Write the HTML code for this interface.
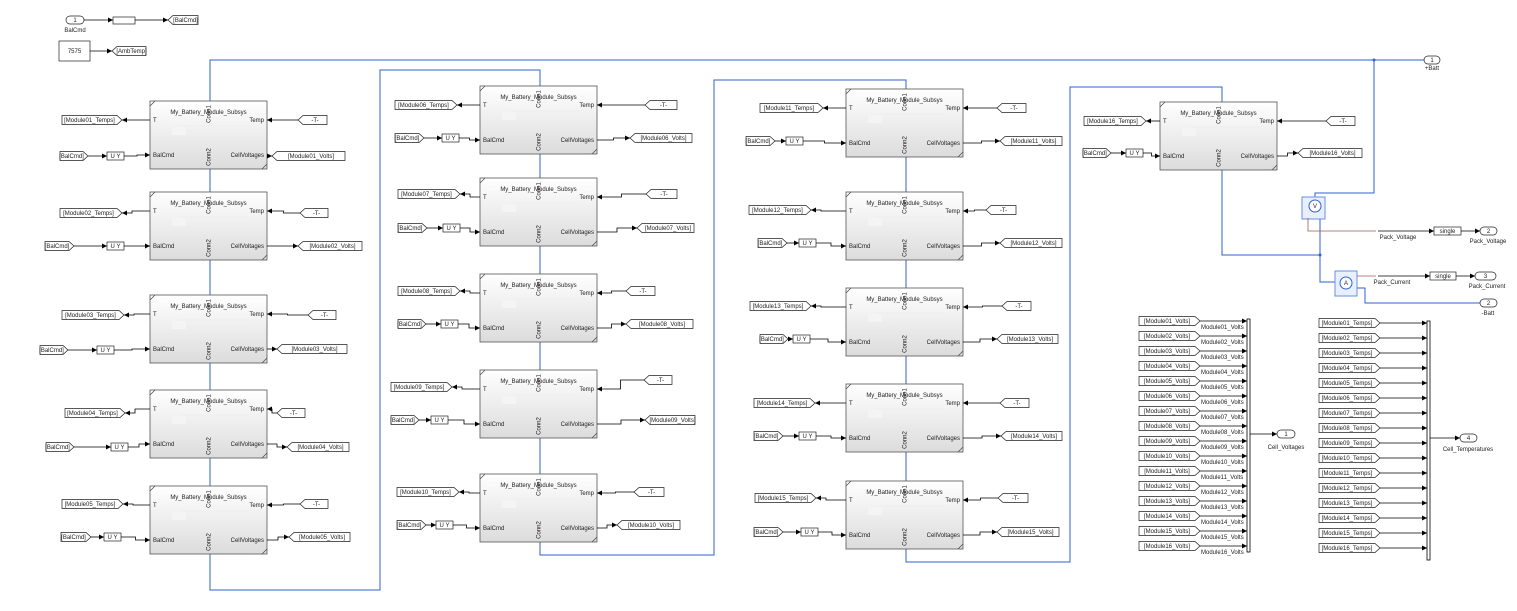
<!DOCTYPE html>
<html><head><meta charset="utf-8"><style>
html,body{margin:0;padding:0;background:#fff;width:1517px;height:611px;overflow:hidden}
svg{display:block}
text{font-family:"Liberation Sans",sans-serif;font-size:6px;fill:#222}
</style></head><body>
<svg id="s" width="1517" height="611" viewBox="0 0 1517 611" xmlns="http://www.w3.org/2000/svg">
<defs>
<linearGradient id="g" x1="0" y1="0" x2="0" y2="1"><stop offset="0" stop-color="#ffffff"/><stop offset="1" stop-color="#dcdcdc"/></linearGradient>
<marker id="a" markerWidth="6" markerHeight="6" refX="5" refY="3" orient="auto" markerUnits="userSpaceOnUse"><path d="M0,0.5 L5,3 L0,5.5z" fill="#000"/></marker>
</defs>
<g id="root"></g>
</svg>
<script>
var S='';
function L(p,arrow,col,w){S+='<polyline points="'+p+'" fill="none" stroke="'+(col||'#000')+'" stroke-width="'+(w||0.8)+'"'+(arrow?' marker-end="url(#a)"':'')+'/>';}
function T(x,y,t,anc,extra){S+='<text x="'+x+'" y="'+y+'"'+(anc?' text-anchor="'+anc+'"':'')+(extra||'')+'>'+t+'</text>';}
function R(x,y,w,h,fill){S+='<rect x="'+x+'" y="'+y+'" width="'+w+'" height="'+h+'" fill="'+(fill||'#fff')+'" stroke="#222" stroke-width="0.7"/>';}
// tag pointing right (tip on right) or left
function tag(x1,x2,yc,txt,dir){var h=4.5,p=5;var pts;
 if(dir=='r')pts=x1+','+(yc-h)+' '+(x2-p)+','+(yc-h)+' '+x2+','+yc+' '+(x2-p)+','+(yc+h)+' '+x1+','+(yc+h);
 else pts=(x1+p)+','+(yc-h)+' '+x2+','+(yc-h)+' '+x2+','+(yc+h)+' '+(x1+p)+','+(yc+h)+' '+x1+','+yc;
 S+='<polygon points="'+pts+'" fill="#fff" stroke="#222" stroke-width="0.7"/>';
 var cx=dir=='r'?(x1+x2-p)/2:(x1+p+x2)/2;T(cx,yc+2,txt,'middle');}
function port(x1,x2,yc,n){S+='<rect x="'+x1+'" y="'+(yc-4)+'" width="'+(x2-x1)+'" height="8" rx="4" fill="#fff" stroke="#222" stroke-width="0.7"/>';T((x1+x2)/2,yc+2,n,'middle');}
function block(x,y,w,h){
 S+='<rect x="'+x+'" y="'+y+'" width="'+w+'" height="'+h+'" fill="url(#g)" stroke="#555" stroke-width="0.8"/>';
 S+='<path d="M'+x+','+(y+5)+' L'+(x+5)+','+y+' M'+(x+w-5)+','+(y+h)+' L'+(x+w)+','+(y+h-5)+'" stroke="#555" stroke-width="0.8"/>';
 T(x+w/2,y+13,'My_Battery_Module_Subsys','middle');
 T(x+3,y+21,'T');T(x+3,y+56,'BalCmd');T(x+w-3,y+21,'Temp','end');T(x+w-3,y+56,'CellVoltages','end');
 var cx=x+w/2;
 T(0,0,'Conn1','middle',' transform="translate('+(cx+2)+','+(y+13)+') rotate(-90)"');
 T(0,0,'Conn2','middle',' transform="translate('+(cx+2)+','+(y+h-12)+') rotate(-90)"');
 S+='<rect x="'+(x+22)+'" y="'+(y+26)+'" width="14" height="8" fill="#f4f4f4"/><line x1="'+(x+30)+'" y1="'+(y+25)+'" x2="'+(x+w-18)+'" y2="'+(y+25)+'" stroke="#eee"/>';
}
// blocks: x,y, temps[x1,x2,y], bal[x1,x2,y], uy x1, tm[x1,x2,y], volts[x1,x2,y], names
var B=[
[150,101,[62,122,120],[60,88,156],107,[298,327,120],[272,345,156],'[Module01_Temps]','[Module01_Volts]'],
[150,192,[60,122,213],[45,74,246],107,[300,328,213],[298,362,246],'[Module02_Temps]','[Module02_Volts]'],
[150,295,[62,124,315],[40,68,350],97,[308,336,315],[277,347,349],'[Module03_Temps]','[Module03_Volts]'],
[150,390,[65,125,413],[46,74,447],111,[277,305,413],[287,349,447],'[Module04_Temps]','[Module04_Volts]'],
[150,486,[62,123,504],[61,91,537],104,[300,328,504],[289,350,537],'[Module05_Temps]','[Module05_Volts]'],
[480,86,[395,457,105],[395,424,138],442,[645,677,105],[630,692,138],'[Module06_Temps]','[Module06_Volts]'],
[480,178,[398,460,194],[398,427,228],443,[646,677,194],[637,694,228],'[Module07_Temps]','[Module07_Volts]'],
[480,274,[398,460,291],[398,426,324],441,[626,655,291],[626,693,324],'[Module08_Temps]','[Module08_Volts]'],
[480,370,[391,452,387],[391,419,420],431,[644,672,380],[645,695,420],'[Module09_Temps]','[Module09_Volts]'],
[480,474,[397,459,492],[397,426,525],436,[634,664,492],[617,680,525],'[Module10_Temps]','[Module10_Volts]'],
[846,89,[760,823,108],[746,775,141],786,[997,1026,108],[1000,1062,141],'[Module11_Temps]','[Module11_Volts]'],
[846,192,[749,811,210],[758,787,243],799,[986,1016,210],[1000,1062,243],'[Module12_Temps]','[Module12_Volts]'],
[846,288,[750,811,306],[760,788,339],793,[1002,1031,306],[997,1058,339],'[Module13_Temps]','[Module13_Volts]'],
[846,384,[754,815,403],[754,783,436],799,[1000,1029,403],[1001,1062,436],'[Module14_Temps]','[Module14_Volts]'],
[846,481,[755,816,498],[754,783,532],801,[998,1028,498],[997,1059,532],'[Module15_Temps]','[Module15_Volts]'],
[1160,102,[1084,1146,121],[1083,1111,153],1126,[1326,1355,121],[1298,1362,153],'[Module16_Temps]','[Module16_Volts]']
];
var W=117,H=68;
// blue conn wires
var bl='#2f62d0';
L('210,101 210,60 1424,60',0,bl,1);
L('210,169 210,192',0,bl,1);L('210,260 210,295',0,bl,1);L('210,363 210,390',0,bl,1);L('210,458 210,486',0,bl,1);
L('210,554 210,590 380,590 380,70 540,70 540,86',0,bl,1);
L('540,154 540,178',0,bl,1);L('540,246 540,274',0,bl,1);L('540,342 540,370',0,bl,1);L('540,438 540,474',0,bl,1);
L('540,542 540,555 714,555 714,80 906,80 906,89',0,bl,1);
L('906,157 906,192',0,bl,1);L('906,260 906,288',0,bl,1);L('906,356 906,384',0,bl,1);L('906,452 906,481',0,bl,1);
L('906,549 906,562 1070,562 1070,87 1222,87 1222,102',0,bl,1);
L('1374,60 1374,193 1315,193 1315,197',0,bl,1);
L('1222,170 1222,255 1320,255',0,bl,1);
L('1320,218 1320,282 1335,282',0,bl,1);
L('1356,288 1365,288 1365,303 1480,303',0,bl,1);
S+='<circle cx="1374" cy="60" r="1.5" fill="'+bl+'"/><circle cx="1320" cy="255" r="1.5" fill="'+bl+'"/>';
B.forEach(function(b){
 var x=b[0],y=b[1];
 block(x,y,W,H);
 var t=b[2],bc=b[3],u=b[4],tm=b[5],v=b[6];
 // temps goto
 L(x+','+(y+19)+' '+(t[1]+10)+','+(y+19)+' '+(t[1]+10)+','+t[2]+' '+t[1]+','+t[2],1);
 tag(t[0],t[1],t[2],b[7],'r');
 tag(bc[0],bc[1],bc[2],'[BalCmd]','r');
 L(bc[1]+','+bc[2]+' '+u+','+bc[2],1);
 R(u,bc[2]-4,17,8);T(u+8.5,bc[2]+2,'U Y','middle');
 var mx=(u+17+x)/2;
 L((u+17)+','+bc[2]+' '+mx+','+bc[2]+' '+mx+','+(y+54)+' '+x+','+(y+54),1);
 tag(tm[0],tm[1],tm[2],'-T-','l');
 var mx2=(x+W+tm[0])/2;
 L(tm[0]+','+tm[2]+' '+mx2+','+tm[2]+' '+mx2+','+(y+19)+' '+(x+W)+','+(y+19),1);
 tag(v[0],v[1],v[2],b[8],'l');
 var mx3=(x+W+v[0])/2;
 L((x+W)+','+(y+54)+' '+mx3+','+(y+54)+' '+mx3+','+v[2]+' '+v[0]+','+v[2],1);
});
// top-left
port(66,84,20,'1');T(75,32,'BalCmd','middle');
L('84,20 113,20',1);R(113,17,22,7);L('135,20 168,20',1);tag(168,198,20,'[BalCmd]','l');
R(59,41,31,20);T(74.5,53,'7575','middle');L('90,51 112,51',1);tag(112,146,51,'[AmbTemp]','l');
// +Batt
port(1424,1440,60,'1');T(1432,70,'+Batt','middle');
// sensors
S+='<rect x="1302" y="197" width="23" height="22" fill="#e8f0ff" stroke="#6a8fe0"/><circle cx="1315" cy="206" r="6" fill="#fff" stroke="'+bl+'"/>';T(1315,208,'V','middle',' fill="'+bl+'"');
S+='<rect x="1335" y="271" width="22" height="25" fill="#e8f0ff" stroke="#6a8fe0"/><circle cx="1346" cy="283" r="6" fill="#fff" stroke="'+bl+'"/>';T(1346,285,'A','middle',' fill="'+bl+'"');
var br='#a05a5a';
L('1308,218 1308,231 1376,231',0,br,0.8);L('1378,231 1434,231',1);R(1434,227,27,8);T(1447.5,233,'single','middle');L('1461,231 1480,231',1);
port(1480,1497,231,'2');T(1398,239,'Pack_Voltage','middle');T(1488,243,'Pack_Voltage','middle');
L('1357,276 1376,276',0,br,0.8);L('1378,276 1430,276',1);R(1430,272,26,8);T(1443,278,'single','middle');L('1456,276 1475,276',1);
port(1475,1496,276,'3');T(1392,284,'Pack_Current','middle');T(1487,288,'Pack_Current','middle');
port(1480,1497,303,'2');T(1488,315,'-Batt','middle');
// bus creators
S+='<rect x="1247" y="319" width="3" height="233" fill="#fff" stroke="#000" stroke-width="0.8"/>';
S+='<rect x="1427" y="321" width="3" height="239" fill="#fff" stroke="#000" stroke-width="0.8"/>';
var nm=['01','02','03','04','05','06','07','08','09','10','11','12','13','14','15','16'];
var VN=['Module01_Volts','Module02_Volts','Module03_Volts','Module04_Volts','Module05_Volts','Module06_Volts','Module07_Volts','Module08_Volts','Module09_Volts','Module10_Volts','Module11_Volts','Module12_Volts','Module13_Volts','Module14_Volts','Module15_Volts','Module16_Volts'];
var TN=['Module01_Temps','Module02_Temps','Module03_Temps','Module04_Temps','Module05_Temps','Module06_Temps','Module07_Temps','Module08_Temps','Module09_Temps','Module10_Temps','Module11_Temps','Module12_Temps','Module13_Temps','Module14_Temps','Module15_Temps','Module16_Temps'];
for(var i=0;i<16;i++){
 var y=321+i*15;
 tag(1139,1200,y,'['+VN[i]+']','r');L('1200,'+y+' 1247,'+y,1);T(1201,y+8,VN[i]);
 var y2=323+i*15;
 tag(1319,1380,y2,'['+TN[i]+']','r');L('1380,'+y2+' 1427,'+y2,1);
}
L('1250,434 1277,434',1);port(1277,1295,434,'1');T(1286,449,'Cell_Voltages','middle');
L('1430,438 1460,438',1);port(1460,1477,438,'4');T(1468,451,'Cell_Temperatures','middle');
document.getElementById('root').innerHTML=S;
</script>
</body></html>
